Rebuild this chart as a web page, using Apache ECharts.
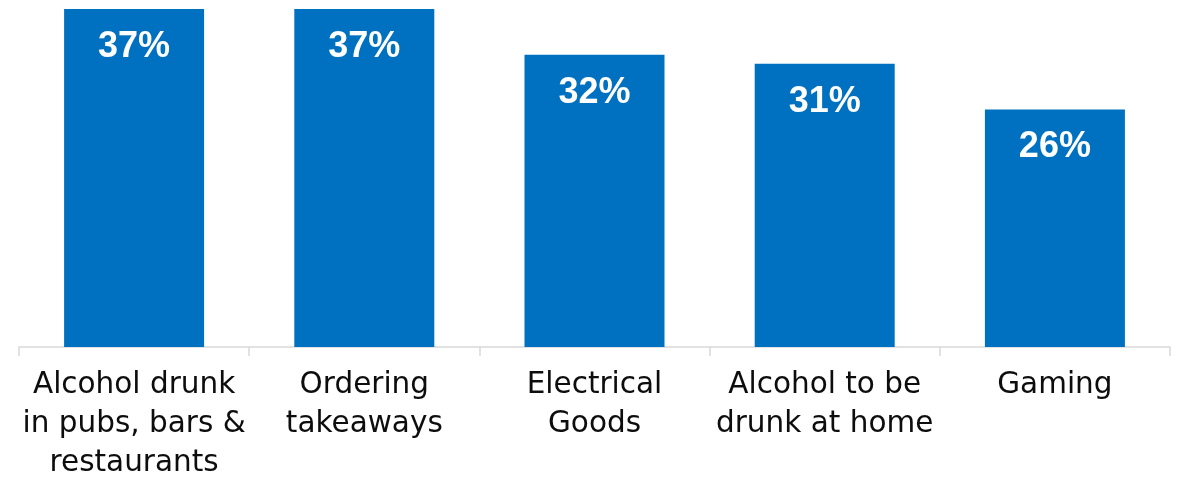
<!DOCTYPE html>
<html>
<head>
<meta charset="utf-8">
<script src="https://cdn.jsdelivr.net/npm/echarts@6/dist/echarts.min.js"></script>
<style>
  html, body { margin: 0; padding: 0; background: #ffffff; overflow: hidden; }
  #chart { width: 1183px; height: 483px; }
</style>
</head>
<body>
<div id="chart"></div>
<script>
// Share of respondents by spending category
const categories = [
  'Alcohol drunk\nin pubs, bars &\nrestaurants',
  'Ordering\ntakeaways',
  'Electrical\nGoods',
  'Alcohol to be\ndrunk at home',
  'Gaming'
];
const shares = [37, 37, 32, 31, 26];

const chart = echarts.init(document.getElementById('chart'), null, { renderer: 'canvas' });

chart.setOption({
  animation: false,
  backgroundColor: '#ffffff',
  grid: { left: 19, right: 13, top: 9, bottom: 134, containLabel: false },
  xAxis: {
    type: 'category',
    data: categories,
    axisLine: { show: true, lineStyle: { color: '#d9d9d9', width: 1.5 } },
    axisTick: { show: true, length: 9, lineStyle: { color: '#d9d9d9', width: 1.5 } },
    axisLabel: {
      interval: 0,
      margin: 19,
      color: '#0d0d0d',
      fontFamily: 'DejaVu Sans',
      fontSize: 29.5,
      lineHeight: 39
    }
  },
  yAxis: {
    type: 'value',
    min: 0,
    max: 37,
    show: false,
    splitLine: { show: false }
  },
  series: [{
    type: 'bar',
    data: shares,
    barWidth: 140,
    itemStyle: { color: '#0070c0' },
    label: {
      show: true,
      position: 'insideTop',
      distance: 20,
      formatter: '{c}%',
      color: '#ffffff',
      fontFamily: 'Liberation Sans',
      fontWeight: 'bold',
      fontSize: 36
    }
  }]
});
</script>
</body>
</html>
